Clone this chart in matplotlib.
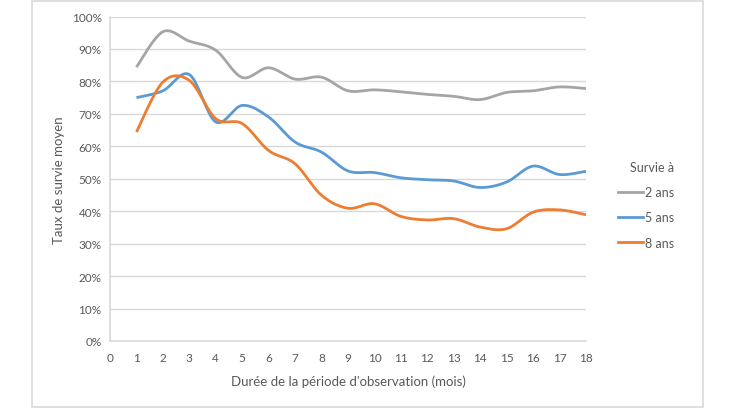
import matplotlib
matplotlib.use('Agg')
import matplotlib.pyplot as plt
import numpy as np
from matplotlib.patches import Rectangle
from matplotlib.lines import Line2D

plt.rcParams['font.family'] = ['Lato', 'DejaVu Sans']

months = list(range(1, 19))
survie_2ans = [84.4, 95.3, 92.4, 89.6, 81.2, 84.2, 80.7, 81.3, 77.1, 77.4,
               76.8, 76.0, 75.4, 74.4, 76.6, 77.1, 78.3, 77.8]
survie_5ans = [75.0, 77.1, 82.1, 67.5, 72.6, 69.0, 61.3, 58.2, 52.4, 51.9,
               50.3, 49.7, 49.3, 47.3, 49.0, 53.9, 51.3, 52.3]
survie_8ans = [64.4, 79.8, 80.3, 68.5, 67.0, 58.7, 54.6, 44.9, 40.9, 42.3,
               38.4, 37.3, 37.7, 35.1, 34.6, 39.7, 40.4, 38.9]
labels = ['2 ans', '5 ans', '8 ans']
colors = ['#A5A5A5', '#5B9BD5', '#ED7D31']

TXT = '#595959'
GRID = '#D9D9D9'


def smooth(x, y, n=20):
    # Excel-like smoothed line: cardinal (Catmull-Rom) Bezier segments
    x = np.asarray(x, float)
    y = np.asarray(y, float)
    px = np.concatenate([[x[0]], x, [x[-1]]])
    py = np.concatenate([[y[0]], y, [y[-1]]])
    xs, ys = [], []
    t = np.linspace(0, 1, n, endpoint=False)
    for i in range(1, len(px) - 2):
        p0 = np.array([px[i], py[i]])
        p3 = np.array([px[i + 1], py[i + 1]])
        p1 = p0 + (np.array([px[i + 1], py[i + 1]]) - np.array([px[i - 1], py[i - 1]])) / 6
        p2 = p3 - (np.array([px[i + 2], py[i + 2]]) - np.array([px[i], py[i]])) / 6
        b = ((1 - t) ** 3)[:, None] * p0 + (3 * (1 - t) ** 2 * t)[:, None] * p1 \
            + (3 * (1 - t) * t ** 2)[:, None] * p2 + (t ** 3)[:, None] * p3
        xs.extend(b[:, 0])
        ys.extend(b[:, 1])
    xs.append(x[-1])
    ys.append(y[-1])
    return np.array(xs), np.array(ys)


fig = plt.figure(figsize=(7.3, 4.1), dpi=100)
fig.patches.append(Rectangle((32 / 730, 2 / 410), 671 / 730, 406 / 410,
                             transform=fig.transFigure, fill=False,
                             edgecolor=GRID, linewidth=1.2))

ax = fig.add_axes([110 / 730, 68 / 410, 476 / 730, 324.5 / 410])

for vals, col in zip([survie_2ans, survie_5ans, survie_8ans], colors):
    sx, sy = smooth(months, vals)
    ax.plot(sx, sy, color=col, linewidth=2, solid_capstyle='butt')

ax.set_xlim(0, 18)
ax.set_ylim(0, 100)
ax.set_xticks(range(0, 19))
ax.set_yticks(range(0, 101, 10))
ax.set_yticklabels(['%d%%' % v for v in range(0, 101, 10)])
ax.yaxis.grid(True, color=GRID, linewidth=1)
ax.set_axisbelow(True)
ax.tick_params(axis='both', length=0, labelsize=8.5, colors=TXT)
ax.tick_params(axis='x', pad=8)
ax.tick_params(axis='y', pad=6)
for s in ['top', 'right']:
    ax.spines[s].set_visible(False)
for s in ['left', 'bottom']:
    ax.spines[s].set_color(GRID)
    ax.spines[s].set_linewidth(1.2)

ax.set_xlabel("Durée de la période d'observation (mois)", fontsize=9.5, color=TXT, labelpad=8)
ax.set_ylabel('Taux de survie moyen', fontsize=9.5, color=TXT, labelpad=5)

handles = [Line2D([0], [0], color=c, linewidth=2) for c in colors]
leg = fig.legend(handles, labels, title='Survie à', loc='upper left',
                 bbox_to_anchor=(607 / 730, 1 - 151 / 410), frameon=False,
                 fontsize=9, title_fontsize=9, handlelength=2.0,
                 handletextpad=0.15, labelspacing=1.05, alignment='right')
leg.get_title().set_color(TXT)
for t in leg.get_texts():
    t.set_color(TXT)

fig.savefig('out.png', dpi=100)
